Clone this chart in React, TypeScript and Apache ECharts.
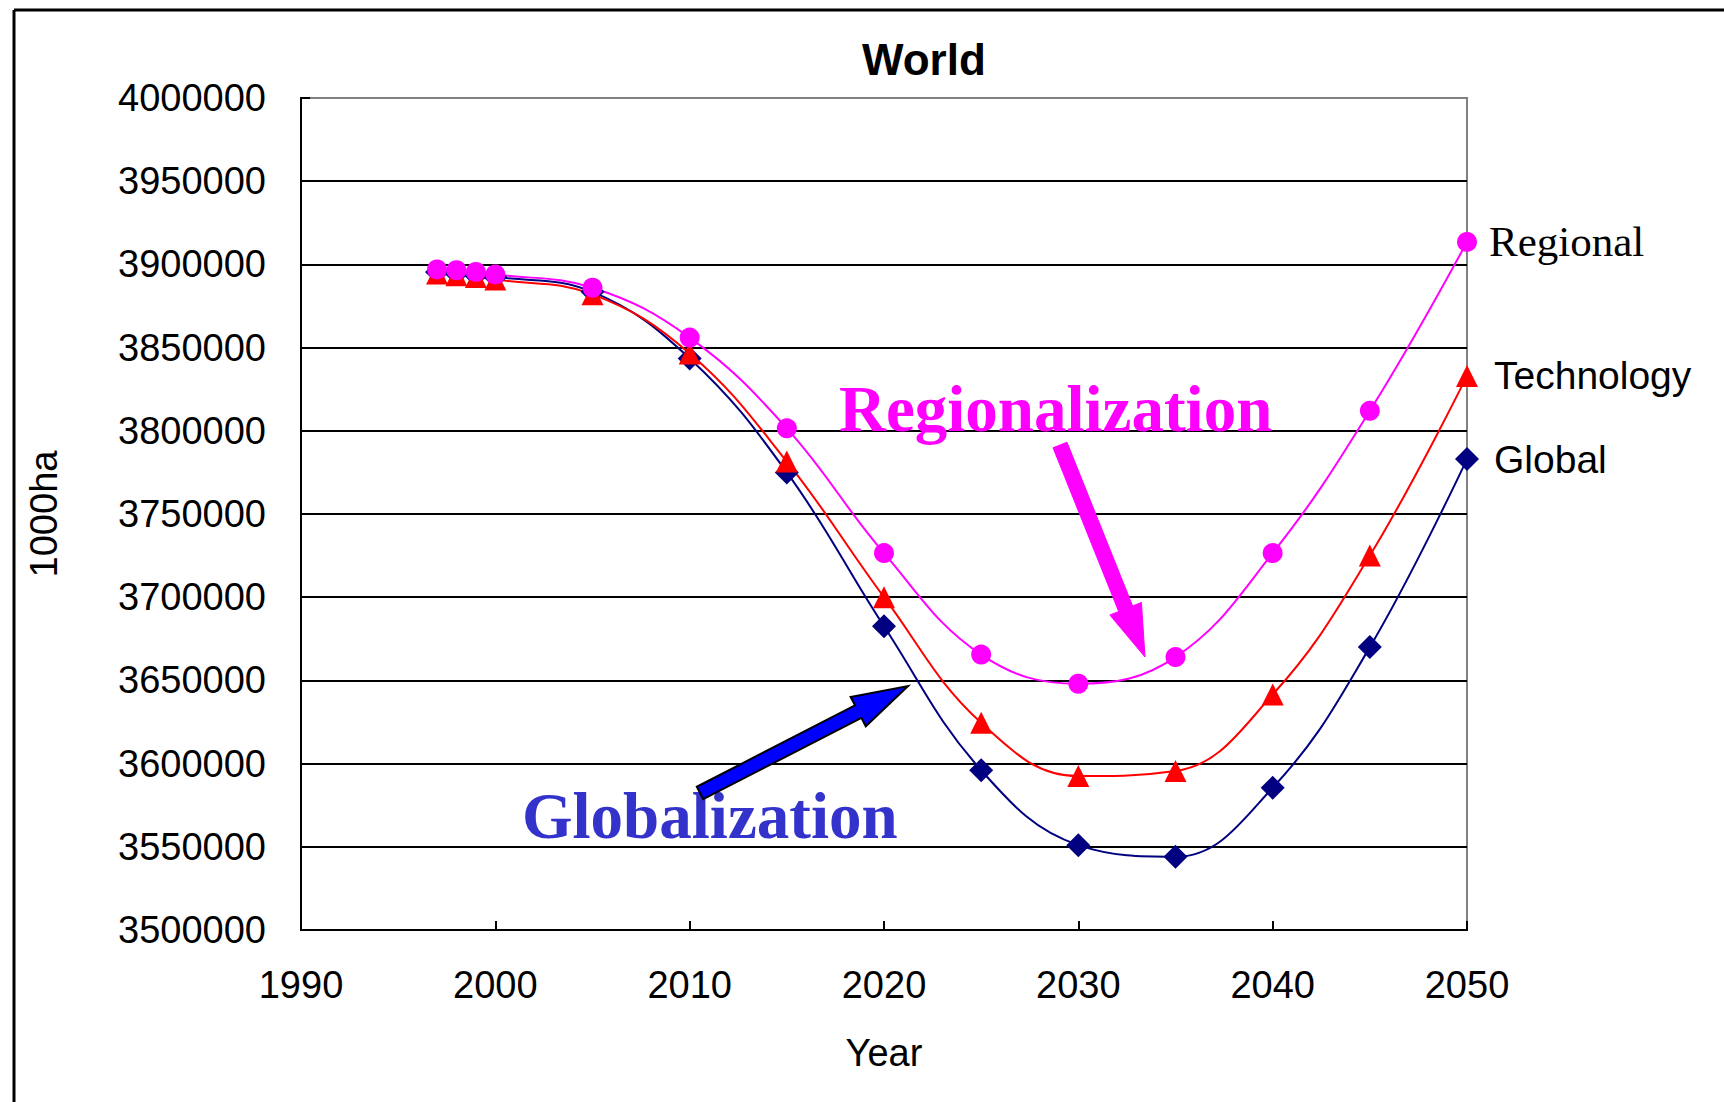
import React, { useEffect, useRef } from "react";
import * as echarts from "echarts";

const years = [1997, 1998, 1999, 2000, 2005, 2010, 2015, 2020, 2025, 2030, 2035, 2040, 2045, 2050];
const regional = [3897000, 3896500, 3895500, 3894000, 3886000, 3856000, 3801500, 3726500, 3665500, 3648000, 3664000, 3726500, 3812000, 3913500];
const technology = [3894500, 3893500, 3892500, 3891000, 3882000, 3846500, 3781500, 3700000, 3624500, 3592500, 3595500, 3641500, 3725000, 3833000];
const global = [3895500, 3894500, 3893500, 3892500, 3883500, 3843500, 3775000, 3682500, 3596000, 3551000, 3544000, 3585500, 3670000, 3783000];
const xTicks = { min: 1990, max: 2050, interval: 10 };
const yTicks = { min: 3500000, max: 4000000, interval: 50000 };

const SANS = "'Liberation Sans', Arial, sans-serif";
const SERIF = "'Liberation Serif', 'Times New Roman', serif";

function arrowPts(x1: number, y1: number, x2: number, y2: number, sw: number, hw: number, hl: number) {
  const dx = x2 - x1, dy = y2 - y1;
  const L = Math.hypot(dx, dy);
  const ux = dx / L, uy = dy / L;
  const nx = -uy, ny = ux;
  const bx = x2 - ux * hl, by = y2 - uy * hl;
  return [
    [x1 + nx * sw / 2, y1 + ny * sw / 2],
    [bx + nx * sw / 2, by + ny * sw / 2],
    [bx + nx * hw / 2, by + ny * hw / 2],
    [x2, y2],
    [bx - nx * hw / 2, by - ny * hw / 2],
    [bx - nx * sw / 2, by - ny * sw / 2],
    [x1 - nx * sw / 2, y1 - ny * sw / 2],
  ];
}

export default function App() {
  const ref = useRef<HTMLDivElement>(null);
  useEffect(() => {
    document.body.style.margin = "0";
    const chart = echarts.init(ref.current!, null, { renderer: "svg" });
    const pair = (arr: number[]) => arr.map((v, i) => [years[i], v]);
    const mkSeries = (name: string, arr: number[], color: string, symbol: string, size: number, labelFont: string, labelSize: number, dist: number) => ({
      name,
      type: "line",
      data: pair(arr),
      smooth: 0.4,
      symbol,
      symbolSize: size,
      lineStyle: { color, width: 2 },
      itemStyle: { color },
      endLabel: {
        show: true,
        formatter: "{a}",
        distance: dist,
        color: "#000",
        fontFamily: labelFont,
        fontSize: labelSize,
      },
      z: 3,
    });
    chart.setOption({
      animation: false,
      backgroundColor: "#fff",
      title: {
        text: "World",
        left: 857,
        top: 32,
        textStyle: { fontFamily: SANS, fontWeight: "bold", fontSize: 44, color: "#000" },
      },
      grid: {
        left: 301,
        right: 257,
        top: 98,
        bottom: 172,
        show: true,
        borderColor: "#808080",
        borderWidth: 2,
        backgroundColor: "transparent",
      },
      xAxis: {
        type: "value",
        min: xTicks.min,
        max: xTicks.max,
        interval: xTicks.interval,
        name: "Year",
        nameLocation: "middle",
        nameGap: 104,
        nameTextStyle: { fontFamily: SANS, fontSize: 38, color: "#000" },
        axisLine: { show: true, lineStyle: { color: "#000", width: 2 } },
        axisTick: { show: true, inside: true, length: 9, lineStyle: { color: "#000", width: 2 } },
        axisLabel: { margin: 36, fontFamily: SANS, fontSize: 38, color: "#000", formatter: (v: number) => String(v) },
        splitLine: { show: false },
      },
      yAxis: {
        type: "value",
        min: yTicks.min,
        max: yTicks.max,
        interval: yTicks.interval,
        name: "1000ha",
        nameLocation: "middle",
        nameRotate: 90,
        nameGap: 238,
        nameTextStyle: { fontFamily: SANS, fontSize: 38, color: "#000" },
        axisLine: { show: true, lineStyle: { color: "#000", width: 2 } },
        axisTick: { show: true, inside: true, length: 9, lineStyle: { color: "#000", width: 2 } },
        axisLabel: { margin: 35, fontFamily: SANS, fontSize: 38, color: "#000", formatter: (v: number) => String(v) },
        splitLine: { show: true, showMinLine: false, showMaxLine: false, lineStyle: { color: "#000", width: 2 } },
      },
      series: [
        mkSeries("Global", global, "#000080", "diamond", 24, SANS, 39, 27),
        mkSeries("Technology", technology, "#FF0000", "triangle", 22, SANS, 39, 27),
        mkSeries("Regional", regional, "#FF00FF", "circle", 20, SERIF, 43, 22),
      ],
      graphic: [
        { type: "line", shape: { x1: 14, y1: 10, x2: 1724, y2: 10 }, style: { stroke: "#000", lineWidth: 3 }, z: 10 },
        { type: "line", shape: { x1: 14, y1: 10, x2: 14, y2: 1102 }, style: { stroke: "#000", lineWidth: 3 }, z: 10 },
        {
          type: "text",
          x: 839,
          y: 409,
          style: { text: "Regionalization", fill: "#FF00FF", font: `bold 65px ${SERIF}`, textVerticalAlign: "middle" },
          z: 10,
        },
        {
          type: "text",
          x: 522,
          y: 816,
          style: { text: "Globalization", fill: "#3333CC", font: `bold 65px ${SERIF}`, textVerticalAlign: "middle" },
          z: 10,
        },
        {
          type: "polygon",
          shape: { points: arrowPts(1060, 445, 1145, 657, 15, 34, 52) },
          style: { fill: "#FF00FF", stroke: "#FF00FF", lineWidth: 1 },
          z: 10,
        },
        {
          type: "polygon",
          shape: { points: arrowPts(700, 793, 908, 686, 14, 33, 56) },
          style: { fill: "#0000FF", stroke: "#000", lineWidth: 2 },
          z: 10,
        },
      ],
    });
    return () => chart.dispose();
  }, []);
  return <div ref={ref} style={{ width: 1724, height: 1102 }} />;
}
